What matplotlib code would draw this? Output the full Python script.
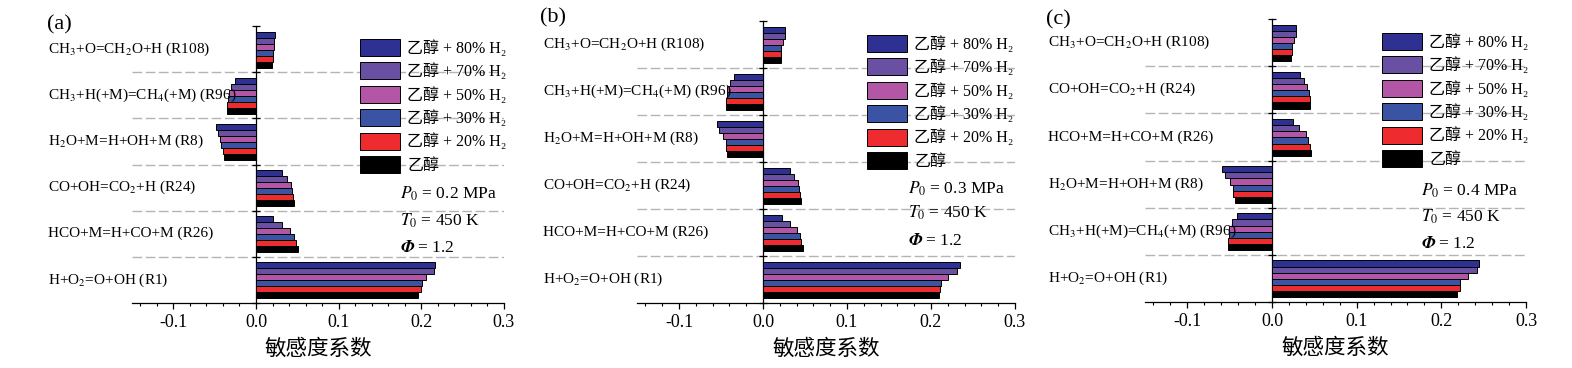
import matplotlib
matplotlib.use('Agg')
import matplotlib.pyplot as plt
import matplotlib.transforms as mtransforms
from matplotlib.ticker import MultipleLocator
import numpy as np

plt.rcParams['font.family'] = ['Liberation Serif', 'Noto Sans CJK SC', 'DejaVu Serif']
plt.rcParams['mathtext.fontset'] = 'stix'
plt.rcParams['axes.unicode_minus'] = False

W, H = 1572, 368

mixtures = ['乙醇 + 80% H₂', '乙醇 + 70% H₂', '乙醇 + 50% H₂',
            '乙醇 + 30% H₂', '乙醇 + 20% H₂', '乙醇']
colors = ['#2e3192', '#6a50a2', '#b456a6', '#3b53a3', '#ee2b2e', '#000000']

# reactions top -> bottom, values in mixture order (80%, 70%, 50%, 30%, 20%, ethanol)
labels_a = ['CH$_3$+O=CH$_2$O+H (R108)', 'CH$_3$+H(+M)=CH$_4$(+M) (R96)',
            'H$_2$O+M=H+OH+M (R8)', 'CO+OH=CO$_2$+H (R24)',
            'HCO+M=H+CO+M (R26)', 'H+O$_2$=O+OH (R1)']
vals_a = [[0.0225, 0.0220, 0.0213, 0.0205, 0.0205, 0.0197],
          [-0.0249, -0.0298, -0.0322, -0.0334, -0.0346, -0.0346],
          [-0.0487, -0.0462, -0.0430, -0.0418, -0.0402, -0.0390],
          [0.0314, 0.0370, 0.0418, 0.0434, 0.0446, 0.0458],
          [0.0209, 0.0314, 0.0406, 0.0458, 0.0478, 0.0503],
          [0.2170, 0.2155, 0.2060, 0.2014, 0.2002, 0.1954]]

labels_b = labels_a
vals_b = [[0.0262, 0.0262, 0.0238, 0.0210, 0.0210, 0.0218],
          [-0.0346, -0.0393, -0.0429, -0.0429, -0.0441, -0.0445],
          [-0.0548, -0.0524, -0.0477, -0.0441, -0.0441, -0.0433],
          [0.0322, 0.0370, 0.0417, 0.0429, 0.0441, 0.0457],
          [0.0226, 0.0322, 0.0405, 0.0441, 0.0453, 0.0481],
          [0.2348, 0.2312, 0.2205, 0.2122, 0.2110, 0.2090]]

labels_c = ['CH$_3$+O=CH$_2$O+H (R108)', 'CO+OH=CO$_2$+H (R24)',
            'HCO+M=H+CO+M (R26)', 'H$_2$O+M=H+OH+M (R8)',
            'CH$_3$+H(+M)=CH$_4$(+M) (R96)', 'H+O$_2$=O+OH (R1)']
vals_c = [[0.0284, 0.0284, 0.0260, 0.0237, 0.0237, 0.0229],
          [0.0335, 0.0378, 0.0414, 0.0441, 0.0449, 0.0453],
          [0.0252, 0.0319, 0.0402, 0.0426, 0.0449, 0.0465],
          [-0.0588, -0.0553, -0.0494, -0.0459, -0.0459, -0.0439],
          [-0.0412, -0.0470, -0.0506, -0.0506, -0.0514, -0.0522],
          [0.2440, 0.2416, 0.2310, 0.2223, 0.2223, 0.2184]]

pressures = ['0.2', '0.3', '0.4']

fig = plt.figure(figsize=(W / 100, H / 100), dpi=100)


def fx(px):
    return px / W


def fy(py):
    return 1 - py / H


def draw(box, labels, vals, lab_x, tag, tag_xy, leg_xy, cond_x, cond_ys, p0):
    left, top, right, bottom = box
    ax = fig.add_axes([fx(left), fy(bottom), fx(right - left), (bottom - top) / H])
    n = len(labels)
    ypos = np.arange(n)[::-1]
    h = 0.13
    for k, (m, c) in enumerate(zip(mixtures, colors)):
        off = 0.38 - h * (k + 0.5)
        ax.barh(ypos + off, [row[k] for row in vals], height=h, color=c,
                edgecolor='black', linewidth=0.7, label=m, zorder=3)
    for b in np.arange(1, n) - 0.5:
        ax.axhline(b, color='#b4b4b4', lw=1.0, dashes=(7, 2.5), zorder=1)
    ax.set_xlim(-0.15, 0.3)
    ax.set_ylim(-0.5, n - 0.5)
    ax.xaxis.set_major_locator(MultipleLocator(0.1))
    ax.xaxis.set_minor_locator(MultipleLocator(0.02))
    ax.set_yticks(np.arange(n + 1) - 0.5)
    ax.set_yticklabels([])
    ax.spines['left'].set_position(('data', 0))
    ax.spines['top'].set_visible(False)
    ax.spines['right'].set_visible(False)
    for s in ax.spines.values():
        s.set_linewidth(0.9)
    ax.tick_params(axis='x', which='major', direction='out', length=4, width=0.9,
                   labelsize=13, pad=4)
    ax.tick_params(axis='x', which='minor', direction='out', length=2.5, width=0.8)
    ax.tick_params(axis='y', direction='inout', length=6, width=0.9)
    ax.set_xlabel('敏感度系数', fontsize=15.5, labelpad=5,
                  family=['Noto Sans CJK SC', 'DejaVu Sans'])

    trans = mtransforms.blended_transform_factory(fig.transFigure, ax.transData)
    for y, lab in zip(ypos, labels):
        ax.text(fx(lab_x), y, lab, transform=trans, ha='left', va='center',
                fontsize=11, clip_on=False)

    fig.text(fx(tag_xy[0]), fy(tag_xy[1]), tag, fontsize=16, va='center', ha='left')

    ax.legend(loc='upper left', bbox_to_anchor=(fx(leg_xy[0]), fy(leg_xy[1])),
              bbox_transform=fig.transFigure, frameon=False, borderpad=0,
              borderaxespad=0, fontsize=11.5, handlelength=2.5, handleheight=1.25,
              labelspacing=0.35, handletextpad=0.45)

    conds = ['$P_0$ = %s MPa' % p0, '$T_0$ = 450 K', r'$\mathbfit{\Phi}$ = 1.2']
    for cy, t in zip(cond_ys, conds):
        fig.text(fx(cond_x), fy(cy), t, fontsize=12.5, va='center', ha='left')
    return ax


draw((132, 26, 504, 303), labels_a, vals_a, 48, '(a)', (47, 25), (360, 39),
     400, (194, 221, 248), pressures[0])
draw((637, 21, 1015, 303), labels_b, vals_b, 543, '(b)', (540, 18), (867, 35),
     908, (189, 213, 241), pressures[1])
draw((1145, 19, 1526, 302), labels_c, vals_c, 1048, '(c)', (1046, 20), (1382, 33),
     1421, (191, 217, 244), pressures[2])

fig.savefig('out.png', dpi=100)
